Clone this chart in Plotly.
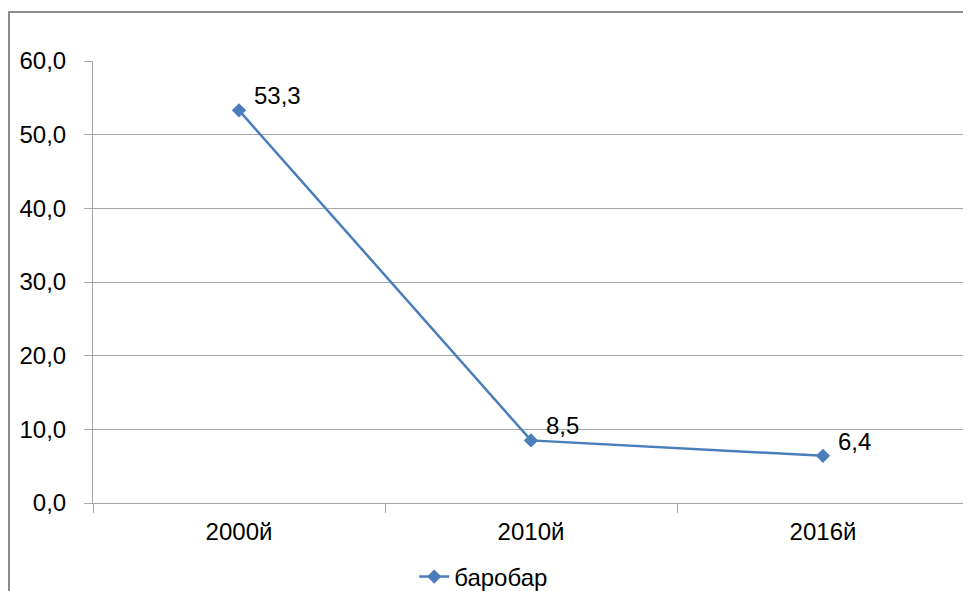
import plotly.graph_objects as go

categories = ["2000й", "2010й", "2016й"]
values = [53.3, 8.5, 6.4]
value_labels = ["53,3", "8,5", "6,4"]
series_name = "баробар"
y_ticks = [0, 10, 20, 30, 40, 50, 60]
y_tick_labels = ["0,0", "10,0", "20,0", "30,0", "40,0", "50,0", "60,0"]

# the page body adds an 8px offset, so the figure is 8px smaller
W, H = 963, 583
L, R, T, B = 85, 2, 53, 88
pw, ph = W - L - R, H - T - B

FONT = "Liberation Sans"
FS = 24
line_color = "#4A7EBB"
grid_color = "#A6A6A6"

fig = go.Figure()
fig.add_trace(go.Scatter(
    x=categories, y=values, mode="lines+markers", name=series_name,
    line=dict(color=line_color, width=2.5),
    marker=dict(symbol="diamond", size=11, color=line_color),
))

for c, v, t in zip(categories, values, value_labels):
    fig.add_annotation(x=c, y=v, text=t, showarrow=False,
                       xanchor="left", yanchor="bottom", xshift=13, yshift=-1,
                       font=dict(family=FONT, size=FS, color="black"))

def px_x(p):
    return (p - L) / pw

def px_y(p):
    return (H - B - p) / ph

border = dict(color="#8C8C8C", width=2)
fig.add_shape(type="line", xref="paper", yref="paper",
              x0=px_x(1), x1=px_x(1), y0=px_y(4), y1=px_y(H + 5), line=border)
fig.add_shape(type="line", xref="paper", yref="paper",
              x0=px_x(0), x1=px_x(W + 5), y0=px_y(4), y1=px_y(4), line=border)

fig.update_layout(
    width=W, height=H,
    margin=dict(l=L, r=R, t=T, b=B, autoexpand=False),
    paper_bgcolor="white", plot_bgcolor="white",
    font=dict(family=FONT, size=FS, color="black"),
    showlegend=True,
    legend=dict(orientation="h", xref="container", yref="container",
                x=0.494, xanchor="center", y=(H - 569) / H, yanchor="middle",
                font=dict(family=FONT, size=FS, color="black")),
    xaxis=dict(
        type="category", range=[-0.5, 2.5], showgrid=False, showline=True,
        linecolor=grid_color, linewidth=1, ticks="outside",
        tickson="boundaries", ticklen=9, tickcolor=grid_color,
        tickfont=dict(family=FONT, size=FS), ticklabelstandoff=7,
    ),
    yaxis=dict(
        range=[0, 60], tickvals=y_ticks, ticktext=y_tick_labels,
        showgrid=True, gridcolor=grid_color, gridwidth=1,
        showline=True, linecolor=grid_color, linewidth=1,
        ticks="outside", ticklen=8, tickcolor=grid_color,
        tickfont=dict(family=FONT, size=FS), zeroline=False,
        ticklabelstandoff=13,
    ),
)

fig.write_html("out.html")
